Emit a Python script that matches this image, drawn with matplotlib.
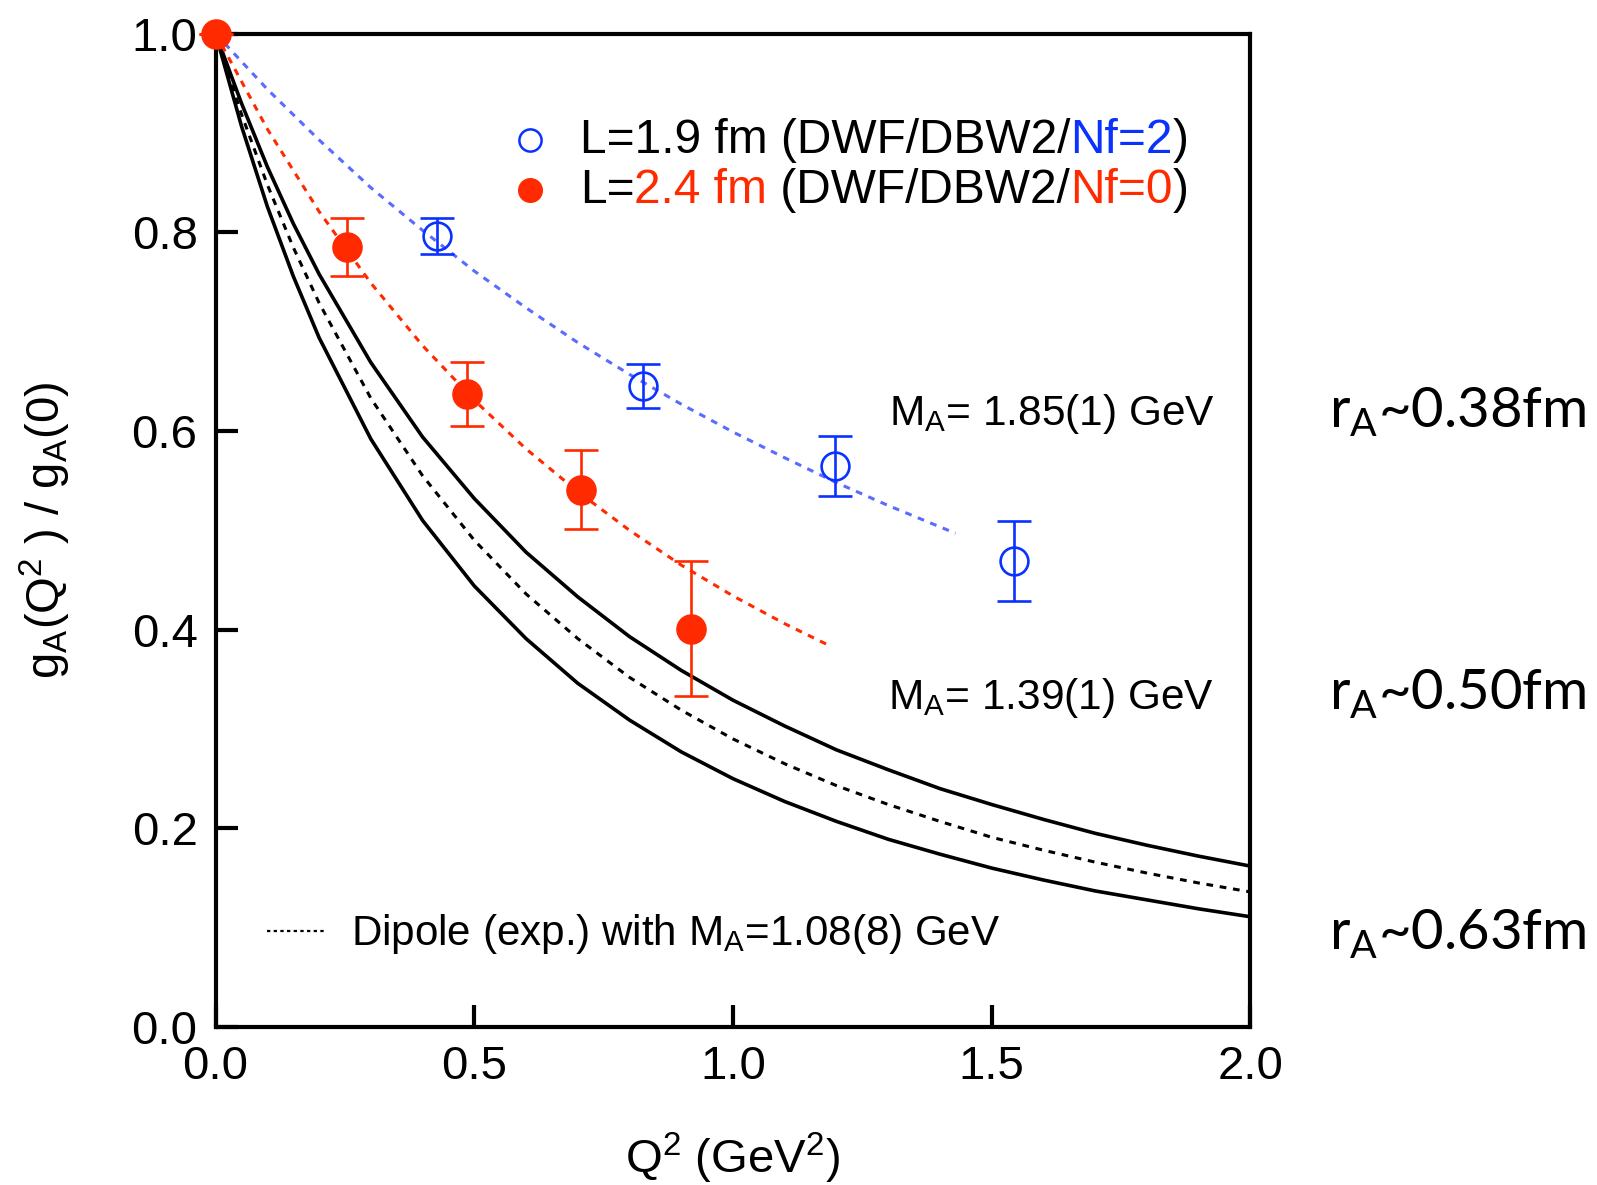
import numpy as np
import matplotlib
matplotlib.use("Agg")
import matplotlib.pyplot as plt

plt.rcParams['font.family'] = ['Liberation Sans', 'DejaVu Sans']
plt.rcParams['mathtext.fontset'] = 'custom'
plt.rcParams['mathtext.rm'] = 'Liberation Sans'

# lattice data, Nf=0 (L=2.4 fm)
q2_nf0 = [0.0, 0.254, 0.485, 0.707, 0.918]
ga_nf0 = [1.0, 0.785, 0.637, 0.541, 0.401]
err_nf0 = [0.0, 0.029, 0.032, 0.040, 0.068]

# lattice data, Nf=2 (L=1.9 fm)
q2_nf2 = [0.428, 0.826, 1.198, 1.543]
ga_nf2 = [0.796, 0.645, 0.565, 0.469]
err_nf2 = [0.018, 0.022, 0.030, 0.040]

# dipole fits
q2_fit_nf2 = [0.0, 0.1, 0.2, 0.3, 0.4, 0.5, 0.6, 0.7, 0.8, 0.9, 1.0, 1.1, 1.2, 1.3, 1.43]
ga_fit_nf2 = [1.0, 0.944, 0.893, 0.845, 0.802, 0.761, 0.724, 0.689, 0.657, 0.627,
              0.599, 0.573, 0.548, 0.525, 0.497]
q2_fit_nf0 = [0.0, 0.1, 0.2, 0.3, 0.4, 0.5, 0.6, 0.7, 0.8, 0.9, 1.0, 1.1, 1.19]
ga_fit_nf0 = [1.0, 0.904, 0.821, 0.749, 0.686, 0.631, 0.582, 0.539, 0.500, 0.465,
              0.434, 0.406, 0.383]

# experimental dipole band
q2_exp = [0.0, 0.05, 0.1, 0.15, 0.2, 0.3, 0.4, 0.5, 0.6, 0.7, 0.8, 0.9, 1.0,
          1.1, 1.2, 1.3, 1.4, 1.5, 1.6, 1.7, 1.8, 1.9, 2.0]
ga_exp_lo = [1.0, 0.907, 0.826, 0.756, 0.694, 0.592, 0.510, 0.444, 0.391, 0.346,
             0.309, 0.277, 0.250, 0.227, 0.207, 0.189, 0.174, 0.160, 0.148, 0.137,
             0.128, 0.119, 0.111]
ga_exp_mid = [1.0, 0.919, 0.848, 0.785, 0.729, 0.633, 0.555, 0.490, 0.436, 0.391,
              0.352, 0.319, 0.290, 0.265, 0.243, 0.224, 0.207, 0.191, 0.178, 0.166,
              0.155, 0.145, 0.136]
ga_exp_hi = [1.0, 0.930, 0.866, 0.809, 0.758, 0.669, 0.594, 0.532, 0.478, 0.433,
             0.393, 0.359, 0.329, 0.303, 0.279, 0.259, 0.240, 0.224, 0.209, 0.195,
             0.183, 0.172, 0.162]

red = '#ff2a00'
blue = '#0a32ff'
light_blue = '#5a6bff'

fig = plt.figure(figsize=(15.97, 11.85), dpi=100)
ax = fig.add_axes([0.135, 0.1333, 0.648, 0.8383])

ax.plot(q2_exp, ga_exp_lo, color='black', lw=2.6)
ax.plot(q2_exp, ga_exp_hi, color='black', lw=2.6)
ax.plot(q2_exp, ga_exp_mid, color='black', lw=2.2, linestyle=(0, (2.2, 2.2)))

ax.plot(q2_fit_nf2, ga_fit_nf2, color=light_blue, lw=2.2, linestyle=(0, (2.2, 2.2)))
ax.plot(q2_fit_nf0, ga_fit_nf0, color=red, lw=2.2, linestyle=(0, (2.2, 2.2)))

ax.errorbar(q2_nf2, ga_nf2, yerr=err_nf2, fmt='o', color=blue, mfc='none',
            mec=blue, ms=20, mew=1.9, elinewidth=1.9, capsize=12, capthick=1.9,
            zorder=5)
ax.errorbar(q2_nf0, ga_nf0, yerr=err_nf0, fmt='o', color=red, mfc=red,
            mec=red, ms=21, elinewidth=1.9, capsize=12, capthick=1.9,
            zorder=6, clip_on=False)

ax.set_xlim(0, 2.0)
ax.set_ylim(0, 1.0)
ax.set_xticks([0.0, 0.5, 1.0, 1.5, 2.0])
ax.set_yticks([0.0, 0.2, 0.4, 0.6, 0.8, 1.0])
ax.set_xticklabels(['0.0', '0.5', '1.0', '1.5', '2.0'])
ax.set_yticklabels(['0.0', '0.2', '0.4', '0.6', '0.8', '1.0'])
ax.tick_params(direction='in', length=16, width=3, labelsize=34, pad=13)
for s in ax.spines.values():
    s.set_linewidth(3)

ax.set_xlabel(r'Q$^\mathregular{2}$ (GeV$^\mathregular{2}$)', fontsize=34, labelpad=30)
ax.set_ylabel(r'g$_\mathregular{A}$(Q$^\mathregular{2}$ ) / g$_\mathregular{A}$(0)',
              fontsize=34, labelpad=42)

# legend with coloured pieces
ax.plot([0.304], [0.893], 'o', ms=16, mfc='none', mec=blue, mew=1.8,
        transform=ax.transAxes)
ax.plot([0.304], [0.843], 'o', ms=17, color=red, transform=ax.transAxes)


def colored_line(x, y, pieces):
    t = ax.text(x, y, pieces[0][0], color=pieces[0][1], fontsize=34.5,
                transform=ax.transAxes, va='baseline', ha='left')
    for s, c in pieces[1:]:
        t = ax.annotate(s, xy=(1, 0), xycoords=t, color=c, fontsize=34.5,
                        va='bottom', ha='left')


colored_line(0.352, 0.880, [('L=1.9 fm (DWF/DBW2/', 'black'), ('Nf=2', blue),
                            (')', 'black')])
colored_line(0.352, 0.830, [('L=', 'black'), ('2.4 fm', red),
                            (' (DWF/DBW2/', 'black'), ('Nf=0', red), (')', 'black')])

ax.text(0.966, 0.606, r'M$_\mathregular{A}$= 1.85(1) GeV', fontsize=30.5,
        transform=ax.transAxes, ha='right', va='baseline')
ax.text(0.965, 0.320, r'M$_\mathregular{A}$= 1.39(1) GeV', fontsize=30.5,
        transform=ax.transAxes, ha='right', va='baseline')

ax.plot([0.050, 0.106], [0.0966, 0.0966], color='black', lw=1.6,
        linestyle=(0, (1.5, 1.5)), transform=ax.transAxes)
ax.text(0.1306, 0.0825, r'Dipole (exp.) with M$_\mathregular{A}$=1.08(8) GeV',
        fontsize=30.3, transform=ax.transAxes, ha='left', va='baseline')

r_labels = [r'r$_\mathregular{A}$~0.38fm', r'r$_\mathregular{A}$~0.50fm',
            r'r$_\mathregular{A}$~0.63fm']
r_ypos = [0.640, 0.402, 0.199]
for lab, yy in zip(r_labels, r_ypos):
    fig.text(0.832, yy, lab, fontsize=40.5, family=['Lato', 'DejaVu Sans'],
             ha='left', va='baseline')

fig.savefig('out.png', dpi=100)
